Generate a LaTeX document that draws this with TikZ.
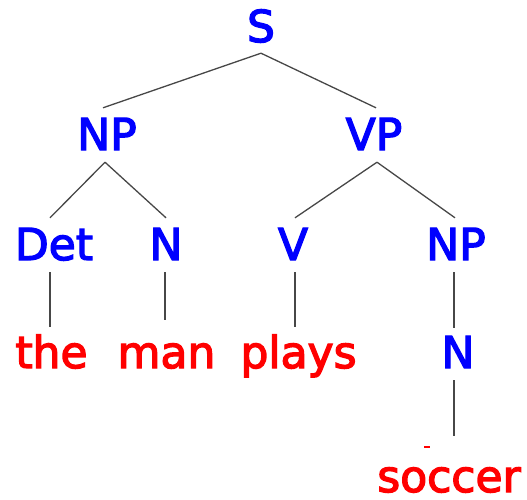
\documentclass[tikz,border=0pt]{standalone}
\usepackage{fontspec}
\setmainfont{DejaVu Sans}
\newfontfamily\treefont[FakeBold=3]{DejaVu Sans}
\definecolor{catblue}{RGB}{0,0,255}
\definecolor{wordred}{RGB}{255,0,0}
\begin{document}
\begin{tikzpicture}[x=1pt,y=-1pt,
  cat/.style={anchor=base,inner sep=0pt,text height=32pt,text depth=0pt,text=catblue,font=\treefont\fontsize{44}{50}\selectfont},
  word/.style={anchor=base,inner sep=0pt,text height=33pt,text depth=0pt,text=wordred,font=\treefont\fontsize{44}{50}\selectfont},
  edge/.style={draw=black!72,line width=1.3pt}]
\useasboundingbox (0,0) rectangle (527,499);
% categories
\node[cat] (S) at (261,42) {S};
\node[cat] (NP) at (107,150) {NP};
\node[cat] (VP) at (374,150) {VP};
\node[cat] (Det) at (54,260) {Det};
\node[cat] (N) at (166,260) {N};
\node[cat] (V) at (293,260) {V};
\node[cat] (NPb) at (456,260) {NP};
\node[cat] (Nb) at (458,368) {N};
% words
\node[word] (the) at (51.5,368) {the};
\node[word] (man) at (166.5,368) {man};
\node[word] (plays) at (298.5,368) {plays};
\node[word] (soccer) at (449,492) {soccer};
% edges
\draw[edge] ([yshift=-11pt]S.south) -- ([xshift=-4pt,yshift=10pt]NP.north);
\draw[edge] ([yshift=-11pt]S.south) -- ([xshift=2pt,yshift=10pt]VP.north);
\draw[edge] ([xshift=-2pt,yshift=-12pt]NP.south) -- ([xshift=-4pt,yshift=10pt]Det.north);
\draw[edge] ([xshift=-2pt,yshift=-12pt]NP.south) -- ([yshift=10pt]N.north);
\draw[edge] ([xshift=3pt,yshift=-12pt]VP.south) -- ([xshift=2pt,yshift=10pt]V.north);
\draw[edge] ([xshift=3pt,yshift=-12pt]VP.south) -- ([xshift=-1pt,yshift=10pt]NPb.north);
\draw[edge] ([xshift=-4pt,yshift=-12pt]Det.south) -- ([xshift=-4pt,yshift=8pt]Det.south |- the.north);
\draw[edge] ([xshift=-1pt,yshift=-12pt]N.south) -- ([xshift=-1pt,yshift=15pt]N.south |- man.north);
\draw[edge] ([xshift=2pt,yshift=-12pt]V.south) -- ([xshift=2pt,yshift=8pt]V.south |- plays.north);
\draw[edge] ([xshift=-2pt,yshift=-12pt]NPb.south) -- ([xshift=-2pt,yshift=8pt]NPb.south |- Nb.north);
\draw[edge] ([xshift=-4pt,yshift=-12pt]Nb.south) -- ([xshift=-4pt,yshift=23pt]Nb.south |- soccer.north);
% small red mark
\fill[wordred] (424,446) rectangle (430,448);
\end{tikzpicture}
\end{document}
